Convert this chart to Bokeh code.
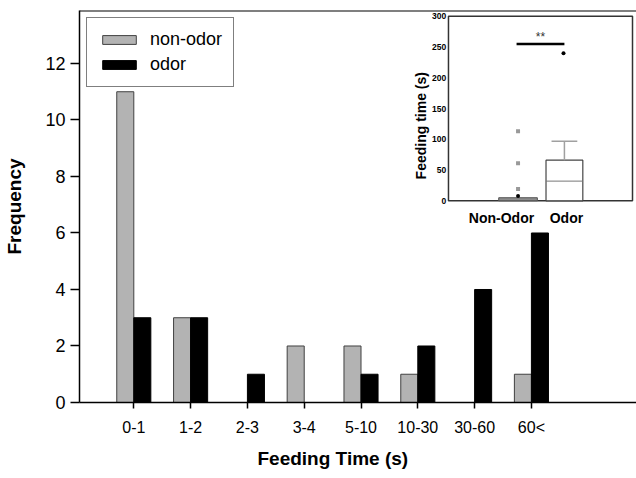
from bokeh.plotting import figure
from bokeh.models import (Range1d, Span, Title, FixedTicker, Legend)
from bokeh.core.properties import value
from bokeh.embed import file_html
from bokeh.resources import INLINE
import math

# ---- main histogram data ----
categories = ["0-1", "1-2", "2-3", "3-4", "5-10", "10-30", "30-60", "60<"]
non_odor = [11, 3, 0, 2, 2, 1, 0, 1]
odor = [3, 3, 1, 0, 1, 2, 4, 6]
y_ticks = [0, 2, 4, 6, 8, 10, 12]

# ---- inset box-plot data ----
inset_groups = ["Non-Odor", "Odor"]
inset_pos = [0.378, 0.63]
box_q1 = [0, 0]
box_median = [None, 32]
box_q3 = [5, 66]
whisker_hi = [None, 97]
nonodor_outliers_gray = [113, 61, 19]
nonodor_outliers_black = [8]
odor_outliers = [240]
inset_y_ticks = [0, 50, 100, 150, 200, 250, 300]

FONT = "Liberation Sans"

x_pos = list(range(1, len(categories) + 1))

p = figure(width=636, height=478, output_backend="svg", toolbar_location=None,
           x_range=Range1d(0.044, 9.85), y_range=Range1d(0, 13.876),
           min_border_left=79, min_border_right=0, min_border_top=10,
           min_border_bottom=76)
p.outline_line_color = None
p.xgrid.visible = False
p.ygrid.visible = False
p.background_fill_color = "white"
p.border_fill_color = "white"

p.extra_x_ranges = {"ix": Range1d(-2.005, 1.0217)}
p.extra_y_ranges = {"iy": Range1d(-327.8, 309.3)}

# bars
r1 = p.vbar(x=[x - 0.15 for x in x_pos], top=non_odor, width=0.3,
            fill_color="#b3b3b3", line_color="#404040", line_width=1)
r2 = p.vbar(x=[x + 0.15 for x in x_pos], top=odor, width=0.3,
            fill_color="#000000", line_color="#000000", line_width=1)

legend = Legend(items=[("non-odor", [r1]), ("odor", [r2])], location="top_left")
legend.margin = 7
legend.padding = 11
legend.spacing = 4
legend.glyph_width = 42
legend.glyph_height = 11
legend.label_height = 20
legend.label_standoff = 10
legend.label_text_font = FONT
legend.label_text_font_size = "18px"
legend.label_text_color = "black"
legend.border_line_color = "black"
legend.border_line_width = 1
legend.background_fill_alpha = 1
p.add_layout(legend)

# top frame border
p.add_layout(Span(location=13.876, dimension="width", line_color="black", line_width=2))

# axes
for ax in (p.xaxis, p.yaxis):
    ax.major_label_text_font = FONT
    ax.major_label_text_color = "black"
    ax.major_tick_in = 0
    ax.minor_tick_out = 0
    ax.minor_tick_in = 0
    ax.axis_line_width = 1.5
    ax.axis_line_color = "black"
    ax.major_tick_line_width = 1.5
    ax.major_tick_line_color = "black"

p.xaxis.ticker = FixedTicker(ticks=x_pos)
p.xaxis.major_label_overrides = {x: c for x, c in zip(x_pos, categories)}
p.xaxis.major_label_text_font_size = "16px"
p.xaxis.major_label_standoff = 10
p.xaxis.major_tick_out = 6

p.yaxis.ticker = FixedTicker(ticks=y_ticks)
p.yaxis.major_label_text_font_size = "18px"
p.yaxis.major_label_standoff = 5
p.yaxis.major_tick_out = 9
p.yaxis.axis_label = "Frequency"
p.yaxis.axis_label_text_font = FONT
p.yaxis.axis_label_text_font_style = "bold"
p.yaxis.axis_label_text_font_size = "19px"
p.yaxis.axis_label_text_color = "black"
p.yaxis.axis_label_standoff = 17

xtitle = Title(text="Feeding Time (s)", align="left", offset=178, standoff=15,
               text_font=FONT, text_font_style="bold", text_font_size="19px",
               text_color="black")
p.add_layout(xtitle, "below")

# ---- inset ----
kw = dict(x_range_name="ix", y_range_name="iy")
p.quad(left=[0], right=[1], bottom=[inset_y_ticks[0]], top=[inset_y_ticks[-1]],
       fill_color="white", line_color="#333333", line_width=1.5, **kw)

p.text(x=[-0.012] * len(inset_y_ticks), y=inset_y_ticks,
       text=[str(t) for t in inset_y_ticks], text_align="right",
       text_baseline="middle", text_font=value(FONT), text_font_style="bold",
       text_font_size="8.5px", text_color="black", **kw)

p.text(x=[-0.152], y=[122], text=["Feeding time (s)"], angle=math.pi / 2,
       text_align="center", text_baseline="middle", text_font=value(FONT),
       text_font_style="bold", text_font_size="14px", text_color="black", **kw)

p.text(x=[0.288, 0.641], y=[-28, -28], text=inset_groups, text_align="center",
       text_baseline="middle", text_font=value(FONT), text_font_style="bold",
       text_font_size="14px", text_color="black", **kw)

# boxes
p.quad(left=[inset_pos[0] - 0.105], right=[inset_pos[0] + 0.105],
       bottom=[box_q1[0]], top=[box_q3[0]], fill_color="#8c8c8c",
       line_color="#555555", line_width=1, **kw)
p.quad(left=[inset_pos[1] - 0.1], right=[inset_pos[1] + 0.1],
       bottom=[box_q1[1]], top=[box_q3[1]], fill_color="white",
       line_color="#444444", line_width=1.2, **kw)
p.segment(x0=[inset_pos[1] - 0.1], x1=[inset_pos[1] + 0.1],
          y0=[box_median[1]], y1=[box_median[1]], line_color="#777777",
          line_width=1, **kw)
p.segment(x0=[inset_pos[1]], x1=[inset_pos[1]], y0=[box_q3[1]], y1=[whisker_hi[1]],
          line_color="#a0a0a0", line_width=1.5, **kw)
p.segment(x0=[inset_pos[1] - 0.07], x1=[inset_pos[1] + 0.07],
          y0=[whisker_hi[1]], y1=[whisker_hi[1]], line_color="#a0a0a0",
          line_width=1.5, **kw)

# outliers
p.scatter(x=[inset_pos[0]] * len(nonodor_outliers_gray), y=nonodor_outliers_gray,
          size=4, marker="square", fill_color="#999999", line_color=None, **kw)
p.scatter(x=[inset_pos[0]] * len(nonodor_outliers_black), y=nonodor_outliers_black,
          size=4, fill_color="black", line_color=None, **kw)
p.scatter(x=[inset_pos[1] - 0.005] * len(odor_outliers), y=odor_outliers,
          size=4, fill_color="black", line_color=None, **kw)

# significance bar
p.segment(x0=[0.37], x1=[0.63], y0=[255], y1=[255], line_color="black",
          line_width=2.5, **kw)
p.text(x=[0.5], y=[266], text=["**"], text_align="center", text_baseline="middle",
       text_font=value(FONT), text_font_size="12px", text_color="#333333", **kw)

open("out.html", "w").write(file_html(p, INLINE))
